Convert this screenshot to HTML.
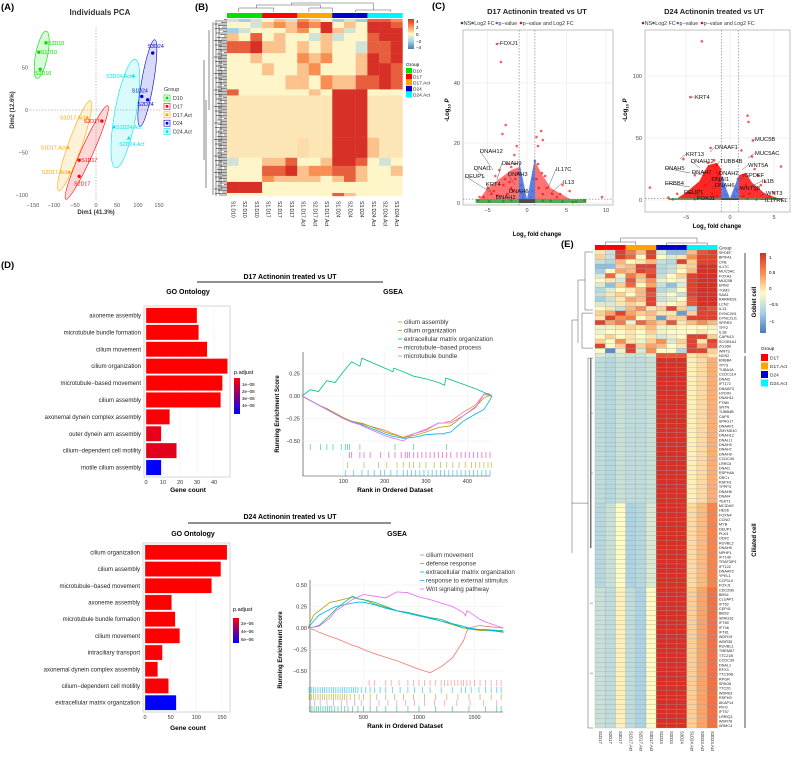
<!DOCTYPE html>
<html><head><meta charset="utf-8">
<style>
html,body{margin:0;padding:0;background:#fff;}
svg{display:block;font-family:"Liberation Sans",sans-serif;}
</style></head>
<body>
<svg id="fig" width="799" height="758" viewBox="0 0 799 758" xmlns="http://www.w3.org/2000/svg">
<text x="1" y="10" font-size="9.5" font-weight="bold">(A)</text>
<text x="195" y="10" font-size="9.5" font-weight="bold">(B)</text>
<text x="432" y="9" font-size="9.5" font-weight="bold">(C)</text>
<text x="1" y="268" font-size="9.5" font-weight="bold">(D)</text>
<text x="561" y="247" font-size="9.5" font-weight="bold">(E)</text>

<text x="100" y="15" font-size="8" font-weight="bold" text-anchor="middle" fill="#333">Individuals PCA</text>
<text x="96" y="214" font-size="6" font-weight="bold" text-anchor="middle" fill="#333">Dim1 (41.3%)</text>
<text x="14" y="110" font-size="6" font-weight="bold" text-anchor="middle" fill="#333" transform="rotate(-90 14 110)">Dim2 (12.6%)</text>
<g id="pca"></g>
<g>
<text x="164" y="91" font-size="5.5" fill="#333">Group</text>
</g>
<g id="pcaLeg"></g>

<g id="heatB"></g>
<g>
<defs><linearGradient id="gB" x1="0" y1="0" x2="0" y2="1"><stop offset="0" stop-color="#D73027"/><stop offset="0.25" stop-color="#F88E52"/><stop offset="0.5" stop-color="#FFFBC4"/><stop offset="0.75" stop-color="#A3CFE6"/><stop offset="1" stop-color="#4A7BB7"/></linearGradient>
<linearGradient id="gE" x1="0" y1="0" x2="0" y2="1"><stop offset="0" stop-color="#D73027"/><stop offset="0.25" stop-color="#F88E52"/><stop offset="0.5" stop-color="#FFFBC4"/><stop offset="0.75" stop-color="#A3CFE6"/><stop offset="1" stop-color="#4A7BB7"/></linearGradient>
<linearGradient id="gP1" x1="0" y1="0" x2="0" y2="1"><stop offset="0" stop-color="#FF0000"/><stop offset="1" stop-color="#0000FF"/></linearGradient></defs>
<rect x="408" y="19" width="6" height="30" fill="url(#gB)"/>
<text x="416" y="23" font-size="4.5">4</text>
<text x="416" y="29" font-size="4.5">2</text>
<text x="416" y="36" font-size="4.5">0</text>
<text x="416" y="43" font-size="4.5">−2</text>
<text x="416" y="49" font-size="4.5">−4</text>
<text x="406" y="66" font-size="4.8">Group</text>
</g>
<g id="heatBLeg"></g>

<text x="537" y="14" font-size="7.5" font-weight="bold" text-anchor="middle" fill="#222">D17 Actinonin treated vs UT</text>
<text x="714" y="14" font-size="7.5" font-weight="bold" text-anchor="middle" fill="#222">D24 Actinonin treated vs UT</text>
<g id="volL"></g>
<g id="volR"></g>
<text x="537" y="236" font-size="6" font-weight="bold" text-anchor="middle">Log<tspan font-size="4" dy="1.5">2</tspan><tspan dy="-1.5"> fold change</tspan></text>
<text x="717" y="228" font-size="6" font-weight="bold" text-anchor="middle">Log<tspan font-size="4" dy="1.5">2</tspan><tspan dy="-1.5"> fold change</tspan></text>
<text x="449" y="110" font-size="6" font-weight="bold" text-anchor="middle" transform="rotate(-90 449 110)">-Log<tspan font-size="4" dy="1.5">10</tspan><tspan dy="-1.5" font-style="italic"> P</tspan></text>
<text x="627" y="110" font-size="6" font-weight="bold" text-anchor="middle" transform="rotate(-90 627 110)">-Log<tspan font-size="4" dy="1.5">10</tspan><tspan dy="-1.5" font-style="italic"> P</tspan></text>

<text x="290" y="279" font-size="7" font-weight="bold" text-anchor="middle">D17 Actinonin treated vs UT</text>
<line x1="197" y1="282" x2="383" y2="282" stroke="#222" stroke-width="1"/>
<text x="188" y="294" font-size="7" font-weight="bold" text-anchor="middle">GO Ontology</text>
<text x="393" y="294" font-size="7" font-weight="bold" text-anchor="middle">GSEA</text>
<text x="290" y="519" font-size="7" font-weight="bold" text-anchor="middle">D24 Actinonin treated vs UT</text>
<line x1="188" y1="523" x2="391" y2="523" stroke="#222" stroke-width="1"/>
<text x="193" y="536" font-size="7" font-weight="bold" text-anchor="middle">GO Ontology</text>
<text x="397" y="536" font-size="7" font-weight="bold" text-anchor="middle">GSEA</text>
<g id="go17"></g>
<g id="go24"></g>
<g id="gs17"></g>
<g id="gs24"></g>
<text x="188" y="492" font-size="6.5" font-weight="bold" text-anchor="middle">Gene count</text>
<text x="188" y="730" font-size="6.5" font-weight="bold" text-anchor="middle">Gene count</text>
<text x="395" y="492" font-size="6.5" font-weight="bold" text-anchor="middle">Rank in Ordered Dataset</text>
<text x="405" y="728" font-size="6.5" font-weight="bold" text-anchor="middle">Rank in Ordered Dataset</text>
<text x="279" y="414" font-size="6" font-weight="bold" text-anchor="middle" transform="rotate(-90 279 414)">Running Enrichment Score</text>
<text x="282" y="650" font-size="6" font-weight="bold" text-anchor="middle" transform="rotate(-90 282 650)">Running Enrichment Score</text>
<g>
<text x="234" y="374" font-size="5.5">p.adjust</text>
<rect x="234" y="378" width="6" height="36" fill="url(#gP1)"/>
<text x="242" y="386" font-size="4.5">1e−08</text>
<text x="242" y="393" font-size="4.5">2e−08</text>
<text x="242" y="400" font-size="4.5">3e−08</text>
<text x="242" y="407" font-size="4.5">4e−08</text>
</g>
<g>
<text x="233" y="611" font-size="5.5">p.adjust</text>
<rect x="233" y="618" width="6" height="25" fill="url(#gP1)"/>
<text x="241" y="625" font-size="4.5">2e−06</text>
<text x="241" y="633" font-size="4.5">4e−06</text>
<text x="241" y="641" font-size="4.5">6e−06</text>
</g>

<g id="heatE"></g>
<g>
<rect x="760" y="253" width="6" height="80" fill="url(#gE)"/>
<text x="769" y="259" font-size="4.5">1</text>
<text x="769" y="274" font-size="4.5">0.5</text>
<text x="769" y="290" font-size="4.5">0</text>
<text x="769" y="306" font-size="4.5">−0.5</text>
<text x="769" y="323" font-size="4.5">−1</text>
<text x="761" y="350" font-size="4.8">Group</text>
</g>
<g id="heatELeg"></g>
<line x1="745" y1="253" x2="745" y2="353" stroke="#222" stroke-width="0.8"/>
<line x1="745" y1="356" x2="745" y2="728" stroke="#222" stroke-width="0.8"/>
<text x="756" y="302" font-size="6" font-weight="bold" text-anchor="middle" transform="rotate(-90 756 302)">Goblet cell</text>
<text x="756" y="540" font-size="6" font-weight="bold" text-anchor="middle" transform="rotate(-90 756 540)">Ciliated cell</text>
</svg>

<script>
// ================= DATA =================
const pcaNames=['S1D10','S2D10','S3D10','S1D17','S2D17','S3D17','S1D17.Act','S2D17.Act','S3D17.Act','S1D24','S2D24','S3D24','S1D24.Act','S2D24.Act','S3D24.Act'];
const pcaGroup=[0,0,0,1,1,1,2,2,2,3,3,3,4,4,4];
const pcaDim1=[-136,-133,-119,-40,-40,14,-67,-64,-21,109,123,135,43,78,89];
const pcaDim2=[68,48,79,-59,-78,-13,-44,-73,-9,16,12,67,-20,-33,40];
const pcaGroups=['D10','D17','D17.Act','D24','D24.Act'];
const pcaTicksX=[-150,-100,-50,0,50,100,150];
const pcaTicksY=[50,0,-50,-100];
const bSamples=['S1.D10','S2.D10','S3.D10','S1.D17','S2.D17','S3.D17','S1.D17.Act','S2.D17.Act','S3.D17.Act','S1.D24','S2.D24','S3.D24','S1.D24.Act','S2.D24.Act','S3.D24.Act'];
const bSampleGroup=[0,0,0,1,1,1,2,2,2,3,3,3,4,4,4];
const bBlockRows=[3,6,5,8,12,10,12,14,6,42,20,8,10,6,11,3];
const bBlockValues=[
[-1,-2,-1,0,1,-1,2,1,0,-2,-1,-2,3,3,2],
[0,0,-1,1,2,1,3,2,4,0,1,0,4,4,3],
[-2,-1,0,0,0,1,2,0,4,1,-1,0,4,4,4],
[1,0,3,0,1,0,0,-1,1,-1,0,0,3,4,4],
[3,3,4,1,1,0,1,0,1,0,0,-1,3,3,4],
[0,0,1,0,0,0,2,1,2,0,0,1,4,3,4],
[0,0,0,1,0,0,1,2,0,0,0,1,4,4,3],
[0,0,0,0,0,1,1,0,2,1,1,3,3,4,3],
[3,0,0,0,0,0,0,1,0,4,4,4,0,0,0],
[0.3,0.3,0.3,0.3,0.3,0.3,0.3,0.3,0.3,4,4,4,0.3,0.3,0.3],
[0.3,0.3,0.3,0.3,0.3,0.3,0.5,0.3,0.3,4,4,4,1,0.3,0.3],
[-1,0,0,1,1,3,0,0,1,4,4,3,0,-1,0],
[0,0,0,3,3,4,1,2,2,3,3,1,0,0,1],
[0,0,0,2,1,1,1,1,0,1,3,1,0,0,0],
[4,4,4,0,0,0,0,0,0,0,0,0,0,0,0],
[0,0,0,0,0,0,0,0,0,3,1,0,0,0,0]];
const volL_fc=[-3.8,-3.3,-3.1,-2.7,-1.3,-1.6,1.8,1.2,2.0,1.4,-2.5,-2.0,-1.5,1.4,1.9,2.3,4.5,5.4,-5.0,-4.2,-3.0,-2.2,-1.5,2.5,3.2,-6.0,9.5,-4.0,-3.5,-2.8,-4.5,-3.8,-2.5,-1.8,1.5,2.0,3.8,4.2,-5.5,1.2,-1.2,-2.0];
const volL_p=[53,47,23,26,19,16,24,22,21,19,13,12,13,13,10,9,6,4,5,4,6,7,8,5,3,2,2,9,11,8,3,2.5,3,4,5,3,2,3,2,8,10,5];
const volL_gfc=[-6.2,7.3,5.8,6.2,-4.8,4.5,3,-3,-2,2];
const volL_gp=[0.8,0.9,0.3,0.4,0.6,0.5,0.7,0.6,0.9,0.8];
const volL_bfc=[-0.9,-0.8,-0.6,0.8,1.0,0.7,0.5,-0.5];
const volL_bp=[10,6,3,8,14,4,2,1.8];
const volL_ticksX=[-5,0,5,10];
const volL_ticksY=[0,20,40];
const volR_fc=[-4.5,-3.2,2.0,2.1,2.6,1.3,-2.2,-5.3,-2.5,-1.8,-1.5,2.5,2.8,3.2,5.8,4,3.5,5,-9.1,-6,-4,-3,-2,-1.5,-1.2,1.5,1.8,1.2,-3.5,-2.8,2.2,4.5,-7,-2,1.5,-1.5,3];
const volR_p=[83,128,68,63,48,40,42,33,30,32,28,35,25,20,27,15,12,6,10,5,20,22,18,22,15,20,12,10,8,12,5,3,2,5,3,3,8];
const volR_gfc=[-6.5,5,3,-4,-2,2];
const volR_gp=[0.6,0.8,0.5,0.7,1,1];
const volR_bfc=[-0.9,-0.7,-0.5,0.9,0.7,0.5];
const volR_bp=[18,10,4,17,9,3];
const volR_ticksX=[-5,0,5];
const volR_ticksY=[0,50,100];
const go17Terms=['axoneme assembly','microtubule bundle formation','cilium movement','cilium organization','microtubule−based movement','cilium assembly','axonemal dynein complex assembly','outer dynein arm assembly','cilium−dependent cell motility','motile cilium assembly'];
const go17Counts=[30,31,36,48,45,44,14,9,18,9];
const go17Padj=[0.3e-8,0.3e-8,0.3e-8,0.3e-8,0.3e-8,0.3e-8,0.4e-8,0.7e-8,0.8e-8,4.5e-8];
const go17Ticks=[0,10,20,30,40];
const go24Terms=['cilium organization','cilium assembly','microtubule−based movement','axoneme assembly','microtubule bundle formation','cilium movement','intraciliary transport','axonemal dynein complex assembly','cilium−dependent cell motility','extracellular matrix organization'];
const go24Counts=[160,148,130,52,59,68,34,25,46,61];
const go24Padj=[0.5e-6,0.5e-6,0.5e-6,0.5e-6,0.5e-6,0.5e-6,0.6e-6,0.6e-6,0.6e-6,6.6e-6];
const go24Ticks=[0,50,100,150];
const gs17Names=['cilium assembly','cilium organization','extracellular matrix organization','microtubule−based process','microtubule bundle'];
const gs17Rank=[0,20,40,60,80,100,120,140,145,200,220,222,245,270,300,330,345,348,360,390,420,440,450,460];
const gs17Score=[
[0,-0.05,-0.10,-0.14,-0.19,-0.24,-0.28,-0.30,-0.31,-0.38,-0.42,-0.42,-0.46,-0.42,-0.38,-0.30,-0.30,-0.29,-0.28,-0.18,-0.10,0.02,0.03,0],
[0,-0.05,-0.10,-0.14,-0.19,-0.24,-0.28,-0.30,-0.30,-0.40,-0.43,-0.43,-0.46,-0.44,-0.40,-0.35,-0.34,-0.34,-0.33,-0.22,-0.12,-0.02,0.0,0],
[0,0.07,0.05,0.17,0.15,0.27,0.38,0.33,0.42,0.31,0.27,0.31,0.27,0.22,0.19,0.15,0.12,0.20,0.18,0.13,0.08,0.04,0.02,0],
[0,-0.05,-0.10,-0.15,-0.20,-0.25,-0.29,-0.31,-0.32,-0.42,-0.45,-0.45,-0.47,-0.46,-0.43,-0.42,-0.42,-0.41,-0.40,-0.28,-0.20,-0.15,-0.08,0],
[0,-0.05,-0.10,-0.15,-0.20,-0.25,-0.29,-0.32,-0.33,-0.44,-0.47,-0.47,-0.50,-0.42,-0.37,-0.30,-0.30,-0.30,-0.30,-0.22,-0.13,0.02,0.01,0]];
const gs17Ticks=[100,200,300,400];
const gs17TicksY=[0.25,0,-0.25,-0.5];
const gs17HitsA=[20,45,60,75,95,105,110,115,140,225,270,350];
const gs17HitsB=[115,120,140,150,165,190,210,225,240,250,255,260,270,280,290,300,310,320,330,340,350,360,375,385,395,405,415,425,435,445,455];
const gs17HitsC=[110,150,185,205,230,245,260,270,285,300,320,335,350,365,380,395,410,420,430,440,450,458];
const gs17HitsD=[105,125,145,160,175,190,200,215,230,245,255,265,275,285,295,305,315,325,335,345,355,365,375,385,395,405,415,425,435,445,455];
const gs24Names=['cilium movement','defense response','extracellular matrix organization','response to external stimulus','Wnt signaling pathway'];
const gs24Rank=[0,50,100,200,250,400,450,500,600,700,800,900,1000,1100,1200,1300,1400,1420,1430,1450,1550,1600,1760];
const gs24Score=[
[0,-0.02,-0.05,-0.10,-0.12,-0.20,-0.22,-0.25,-0.30,-0.34,-0.38,-0.43,-0.48,-0.52,-0.45,-0.35,-0.15,-0.08,-0.04,0.0,0.03,0.02,0],
[0,0.15,0.20,0.30,0.31,0.36,0.34,0.33,0.28,0.24,0.20,0.18,0.15,0.12,0.08,0.04,0.0,0.0,-0.01,-0.01,-0.03,-0.03,-0.04],
[0,0.01,0.03,0.15,0.22,0.37,0.34,0.33,0.30,0.25,0.20,0.18,0.15,0.12,0.10,0.05,0.0,0.0,0.0,-0.01,-0.02,-0.02,-0.03],
[0,0.08,0.15,0.22,0.25,0.29,0.30,0.30,0.27,0.23,0.20,0.17,0.14,0.11,0.08,0.05,0.02,0.01,0.01,0.0,-0.02,-0.02,-0.05],
[0,0.01,0.02,0.12,0.20,0.33,0.36,0.39,0.37,0.35,0.42,0.41,0.36,0.33,0.29,0.25,0.18,0.14,0.20,0.19,0.10,0.07,0]];
const gs24Ticks=[500,1000,1500];
const gs24TicksY=[0.5,0.25,0,-0.25,-0.5];
const gs24Hits=[
[550,600,700,750,820,900,950,1000,1050,1100,1150,1200,1230,1260,1290,1320,1350,1380,1400,1430,1460,1500,1550,1600,1650,1700,1740],
[10,30,50,70,90,110,130,150,170,190,210,230,250,270,290,310,330,350,370,390,410,430,450,480,520,560,600,650,700,760,830,900,960,1030,1100,1200,1300,1380,1420,1470,1540,1600,1650,1700,1740],
[10,30,50,70,90,110,130,150,170,190,210,230,250,270,290,310,330,350,380,420,460,500,560,620,700,780,860,950,1050,1150,1250,1350,1450,1550,1650,1740],
[20,60,110,170,230,300,350,420,480,560,640,720,800,880,960,1050,1140,1230,1340,1460,1580,1700],
[15,35,55,75,95,115,135,155,175,195,215,240,270,300,330,360,400,450,500,560,620,700,800,900,1000,1150,1300,1450,1600,1700,1740]];
const eSamples=['S1D17','S2D17','S3D17','S1D17.Act','S2D17.Act','S3D17.Act','S1D24','S2D24','S3D24','S1D24.Act','S2D24.Act','S3D24.Act'];
const eSampleGroup=[0,0,0,1,1,1,2,2,2,3,3,3];
const eGobletGenes=['SPDEF','BPIFA1','CFB','IL17C','MUC5AC','FOXA3','MUC5B','ERN2','TGM2','SAA1','RARRES1','LCN2','IL13','DYNC2H1','DYNC2LI1','SPRR3','TFF2','IL1B','CAPN13','SCGB1A1','ZG16B','WNT3'];
const eGobletValues=[
[0.1,-0.3,0.9,0.6,0.3,0.9,-0.2,-0.6,-0.6,0.3,0.8,0.9],
[0.2,-0.3,0.9,0.7,0.0,0.9,0.0,-0.2,0.1,0.5,0.9,0.9],
[-0.3,-0.4,0.3,0.0,0.1,0.3,-0.3,-0.4,0.9,0.2,0.9,0.9],
[-0.6,-0.6,0.2,0.3,0.9,0.9,-0.4,-0.3,0.1,0.2,1,1],
[-0.5,0.0,0.4,0.3,0.9,0.8,-0.4,-0.3,0.0,0.3,1,1],
[-0.2,0.7,-0.1,0.6,0.3,0.9,-0.3,0.0,0.2,0.9,1,1],
[0.0,0.1,-0.2,0.8,0.2,0.5,-0.1,0.0,-0.1,0.9,1,1],
[-0.2,-0.6,0.2,0.7,0.0,0.4,-0.3,-0.6,-0.2,0.9,1,1],
[-0.4,-0.2,0.0,0.1,0.3,0.9,-0.4,-0.3,0.0,0.9,1,1],
[-0.3,0.1,0.2,0.0,0.3,0.8,-0.2,0.0,-0.3,0.9,1,1],
[-0.5,-0.3,0.1,0.4,0.3,0.9,-0.3,-0.2,0.0,0.8,1,1],
[-0.2,-0.2,0.1,0.2,0.1,0.9,-0.1,0.0,0.1,0.8,1,1],
[0.0,0.1,-0.3,0.3,0.5,0.1,0.2,0.9,0.2,-0.4,0.9,0.8],
[0.2,0.4,0.9,0.4,0.2,0.3,0.1,0.1,-0.8,0.2,0.9,0.9],
[0.1,0.9,0.5,0.6,0.0,0.2,-0.8,0.2,0.2,0.9,0.9,0.9],
[0.9,0.4,0.6,-0.1,0.7,0.4,0.2,0.8,0.1,0.3,0.5,0.3],
[-0.1,-0.1,0.1,0.2,0.1,0.3,-0.1,-0.1,0.0,0.0,0.0,-0.1],
[-0.1,0.0,0.0,0.1,0.0,0.2,-0.1,0.0,0.0,0.0,0.1,0.0],
[0.0,0.2,0.0,0.1,0.0,0.1,-0.2,-0.1,0.0,0.9,0.9,0.2],
[0.2,0.0,0.5,0.1,-0.1,0.2,0.5,-0.2,0.2,0.9,0.1,0.9],
[0.9,0.0,0.2,0.9,0.2,0.4,0.3,0.0,0.1,0.9,0.4,0.8],
[0.0,-0.9,-0.1,0.9,-0.2,0.5,0.0,0.0,-0.4,0.9,0.9,0.2]];
const eCiliaGenes=['NOS2','ERBB4','TP73','TUBA1A','CCDC114','DNAI2','IFT172','DNAAF3','HYDIN','DNAH11','FTNB','SNTN','TUBB4B','CAPS','SPAG17','DNAAF1','ZMYND10','DNAH12','DNALI1','DNAH3','DNAH7','DNAH9','CCDC40','LRRC6','DNAI1','RSPH4A','DRC1','RSPH1','TPPP3','DNAH6','DNAI4','TEKT1','MCIDAS','HES6','FOXN4','CCNO','MYB','DEUP1','PLK4','ODF2','RUVBL2','DNAH5','NPHP1','IFT140','TRAF3IP1','IFT122','DNAAF2','YPEL1','CCP110','FOXJ1','CDC20B','BBS4','CLUAP1','IFT52','CEP41','BBS9','SPAG16','IFT80','IFT46','IFT81','WDR19','WDR35','RUVBL1','TMEM67','TTC21B','CCDC39','DNAL1','RFX3','TTC30B','RPGR','SPAG6','TTC26','WDR63','RSPH9','AKAP14','PIFO','IFT57','LRRIQ1','WDR78','ARMC4'];
const eCiliaProfiles=[
[-0.2,-0.3,-0.2,-0.3,-0.3,-0.2,0.8,0.8,0.8,0.1,0.2,0.1],
[-0.35,-0.4,-0.3,-0.35,-0.35,-0.3,1,1,1,0.05,0.15,0.35],
[-0.4,-0.3,0.0,-0.45,-0.4,-0.2,1,1,1,0.15,0.3,0.55],
[-0.3,-0.35,0.05,-0.35,-0.45,0.0,1,1,1,0.2,0.4,0.65]];
const eCiliaProfileIdx=[0,1,1,1,1,1,1,1,1,1,1,1,1,1,1,1,1,1,1,1,1,1,1,1,1,1,1,1,1,1,1,1,2,2,2,2,2,2,2,2,2,2,2,2,2,2,2,2,2,2,3,3,3,3,3,3,3,3,3,3,3,3,3,3,3,3,3,3,3,3,3,3,3,3,3,3,3,3,3,3];

// ================= DRAW =================
const NS='http://www.w3.org/2000/svg';
function mk(tag,attrs,parent){const e=document.createElementNS(NS,tag);for(const k in attrs)e.setAttribute(k,attrs[k]);parent.appendChild(e);return e;}
function lerpCol(stops,v){
  if(v<=stops[0][0])return 'rgb('+stops[0][1].join(',')+')';
  for(let i=1;i<stops.length;i++){if(v<=stops[i][0]){const a=stops[i-1],b=stops[i];const t=(v-a[0])/(b[0]-a[0]);return 'rgb('+a[1].map((c,j)=>Math.round(c+(b[1][j]-c)*t)).join(',')+')';}}
  return 'rgb('+stops[stops.length-1][1].join(',')+')';}
const heatStops=[[-1,[74,123,183]],[-0.5,[163,207,230]],[0,[255,251,196]],[0.5,[248,142,82]],[1,[215,48,39]]];
const grpCols=['#00E000','#FF0000','#FFA500','#0000CD','#00E5EE'];

(function(){
  const g=document.getElementById('pca');
  const sx=d=>96+d*0.42, sy=d=>110-d*0.85;
  let l=mk('line',{x1:sx(0),y1:27,x2:sx(0),y2:200,stroke:'#888','stroke-width':0.5,'stroke-dasharray':'1.5,1.5'},g);
  
  
  l=mk('line',{x1:30,y1:sy(0),x2:162,y2:sy(0),stroke:'#888','stroke-width':0.5,'stroke-dasharray':'1.5,1.5'},g);
  
  
  pcaTicksX.forEach(v=>{const t=mk('text',{x:sx(v),y:207,'font-size':5.5,'text-anchor':'middle',fill:'#555'},g);t.textContent=String(v).replace('-','−');
    
    });
  pcaTicksY.forEach(v=>{const t=mk('text',{x:28,y:sy(v)+2,'font-size':5.5,'text-anchor':'end',fill:'#555'},g);t.textContent=String(v).replace('-','−');
    
    });
  for(let gi=0;gi<5;gi++){
    const xs=[],ys=[];pcaGroup.forEach((gg,i)=>{if(gg===gi){xs.push(sx(pcaDim1[i]));ys.push(sy(pcaDim2[i]));}});
    const n=xs.length,mx=xs.reduce((a,b)=>a+b)/n,my=ys.reduce((a,b)=>a+b)/n;
    let sxx=0,syy=0,sxy=0;for(let i=0;i<n;i++){sxx+=(xs[i]-mx)**2;syy+=(ys[i]-my)**2;sxy+=(xs[i]-mx)*(ys[i]-my);}
    sxx/=n-1;syy/=n-1;sxy/=n-1;
    const tr=(sxx+syy)/2,d=Math.sqrt(((sxx-syy)/2)**2+sxy*sxy);const l1=tr+d,l2=Math.max(tr-d,0);
    const ang=0.5*Math.atan2(2*sxy,sxx-syy)*180/Math.PI;
    const e=mk('ellipse',{cx:mx,cy:my,rx:Math.sqrt(l1)*1.55+3,ry:Math.max(Math.sqrt(l2)*1.3,6),transform:'rotate('+ang+' '+mx+' '+my+')',fill:grpCols[gi],'fill-opacity':0.15,stroke:grpCols[gi],'stroke-width':0.6},g);
    
    
  }
  pcaNames.forEach((nm,i)=>{
    const x=sx(pcaDim1[i]),y=sy(pcaDim2[i]),c=grpCols[pcaGroup[i]];
    let p;
    if(pcaGroup[i]===2||pcaGroup[i]===4)p=mk('path',{d:`M${x},${y-2.2}L${x+2},${y+1.4}L${x-2},${y+1.4}Z`,fill:c},g);
    else p=mk('circle',{cx:x,cy:y,r:1.7,fill:c},g);
    
    
    const right=(pcaGroup[i]===0)||nm==='S1D24.Act'||nm==='S1D17';
    const t=mk('text',{x:right?x+2:x-2,y:y+(nm==='S2D10'?6:nm==='S3D24'?-5:nm==='S2D24.Act'?8:nm==='S2D17'?9:2),'font-size':5.3,'text-anchor':right?'start':'end',fill:c},g);
    if(nm==='S2D10'||nm==='S3D24'||nm==='S2D24.Act'||nm==='S2D17'){t.setAttribute('text-anchor','middle');t.setAttribute('x',x+3);}
    if(nm==='S1D24'||nm==='S2D24'){t.setAttribute('text-anchor','middle');t.setAttribute('y',nm==='S1D24'?y-4:y+6);}
    t.textContent=nm;
    
    
  });
  const lg=document.getElementById('pcaLeg');
  pcaGroups.forEach((gname,i)=>{
    const y=95+i*8.4;
    const r=mk('rect',{x:164,y:y,width:6,height:6,fill:'#fff',stroke:grpCols[i],'stroke-width':0.6},lg);
    
    
    const m=mk('circle',{cx:167,cy:y+3,r:1.5,fill:grpCols[i]},lg);
    
    
    const t=mk('text',{x:173,y:y+5,'font-size':5.3,fill:'#333'},lg);t.textContent=gname;
    
    
  });
})();

(function(){
  const g=document.getElementById('heatB');
  const x0=227,cw=11.7,y0=19;
  const total=bBlockRows.reduce((a,b)=>a+b),rh=177/total;
  const bStops=[[-4,[74,123,183]],[-2,[163,207,230]],[0,[254,246,200]],[2,[248,142,82]],[4,[215,48,39]]];
  const bGrpCols=['#00E000','#FF0000','#FFA500','#0000CD','#00F5FF'];
  bSamples.forEach((s,j)=>{
    const r=mk('rect',{x:x0+j*cw,y:13,width:cw+0.2,height:5,fill:bGrpCols[bSampleGroup[j]]},g);
    
    
    const t=mk('text',{x:x0+j*cw+cw/2-1.5,y:201,'font-size':5,fill:'#222',transform:`rotate(90 ${x0+j*cw+cw/2-1.5} 201)`},g);t.textContent=s;
    
    
  });
  let row=0;
  bBlockRows.forEach((n,bi)=>{
    bBlockValues[bi].forEach((v,j)=>{
      const r=mk('rect',{x:x0+j*cw,y:y0+row*rh,width:cw+0.2,height:n*rh+0.2,fill:lerpCol(bStops,v)},g);
      
      
    });
    row+=n;
  });
  // dense row dendrogram (decorative)
  let dd='';
  for(let i=0;i<118;i++){const y=y0+i*1.5+0.5;const len=3+((i*7)%11);dd+=`M227,${y.toFixed(1)}H${(227-len).toFixed(1)}`;}
  dd+='M213,22V195 M209,30V110 M206,100V188 M204,60V160 M216,20V196 M219,25V120 M219,130V194 M221,40V190';
  const dm=mk('path',{d:dd,stroke:'#111','stroke-width':0.5,fill:'none'},g);
  
  
  const top=mk('path',{d:`M${x0+cw*1},12V8H${x0+cw*4}V12 M${x0+cw*2.5},8V5H${x0+cw*8}V8 M${x0+cw*7},12V8H${x0+cw*9}V12 M${x0+cw*5.5},5V3H${x0+cw*12.5}V10 M${x0+cw*11},10H${x0+cw*14}V12 M${x0+cw*11},10V12`,stroke:'#555','stroke-width':0.5,fill:'none'},g);
  
  
  const lg=document.getElementById('heatBLeg');
  ['D10','D17','D17.Act','D24','D24.Act'].forEach((s,i)=>{
    const r=mk('rect',{x:406,y:68+i*6,width:6,height:5.5,fill:bGrpCols[i]},lg);
    
    
    const t=mk('text',{x:413,y:72.5+i*6,'font-size':4.8,fill:'#222'},lg);t.textContent=s;
    
    
  });
})();

function drawVolcano(id,box,sx,sy,ticksX,ticksY,fc,p,gfc,gp,bfc,bp,legX,clouds,labels){
  const g=document.getElementById(id);
  const r=mk('rect',{x:box[0],y:box[1],width:box[2]-box[0],height:box[3]-box[1],fill:'#fff',stroke:'#999','stroke-width':0.6},g);
  
  
  ticksX.forEach(v=>{const l=mk('line',{x1:sx(v),y1:box[1],x2:sx(v),y2:box[3],stroke:'#e4e4e4','stroke-width':0.5},g);
    
    
    const t=mk('text',{x:sx(v),y:box[3]+7,'font-size':5.5,'text-anchor':'middle',fill:'#444'},g);t.textContent=String(v).replace('-','−');
    
    });
  ticksY.forEach(v=>{const l=mk('line',{x1:box[0],y1:sy(v),x2:box[2],y2:sy(v),stroke:'#e4e4e4','stroke-width':0.5},g);
    
    
    const t=mk('text',{x:box[0]-3,y:sy(v)+2,'font-size':5.5,'text-anchor':'end',fill:'#444'},g);t.textContent=v;
    
    });
  clouds.forEach(c=>{const pth=mk('path',{d:c[0],fill:c[1],'fill-opacity':c[2]},g);
    
    });
  gfc.forEach((v,i)=>{const c=mk('circle',{cx:sx(v),cy:sy(gp[i]),r:1.3,fill:'#228B22','fill-opacity':0.8},g);
    
    });
  bfc.forEach((v,i)=>{const c=mk('circle',{cx:sx(v),cy:sy(bp[i]),r:1.3,fill:'#4169E1','fill-opacity':0.8},g);
    
    });
  fc.forEach((v,i)=>{const c=mk('circle',{cx:sx(v),cy:sy(p[i]),r:1.3,fill:'#FF0000','fill-opacity':0.65},g);
    
    });
  [-1,1].forEach(v=>{const l=mk('line',{x1:sx(v),y1:box[1],x2:sx(v),y2:box[3],stroke:'#555','stroke-width':0.5,'stroke-dasharray':'1.5,1.5'},g);
    
    });
  const hl=mk('line',{x1:box[0],y1:sy(1.3),x2:box[2],y2:sy(1.3),stroke:'#555','stroke-width':0.5,'stroke-dasharray':'1.5,1.5'},g);
  
  
  labels.forEach(lb=>{
    const ln=mk('line',{x1:lb[1],y1:lb[2]-2,x2:lb[3],y2:lb[4],stroke:'#333','stroke-width':0.4},g);
    
    
    const t=mk('text',{x:lb[1],y:lb[2],'font-size':5.8,fill:'#111','text-anchor':lb[5]||'start'},g);t.textContent=lb[0];
    
    
  });
  const leg=[['NS','#444'],['Log2 FC','#228B22'],['p−value','#4169E1'],['p−value and Log2 FC','#FF0000']];
  let x=legX;
  leg.forEach(L=>{const c=mk('circle',{cx:x,cy:23,r:1.3,fill:L[1]},g);
    
    
    const t=mk('text',{x:x+1.8,y:25,'font-size':5.3,fill:'#333'},g);t.textContent=L[0];
    
    
    x+=L[0].length*2.75+5;});
}
(function(){
  const sx=v=>527+v*7.9, sy=v=>203-v*3;
  const cl=[
   [`M${sx(-6)},${sy(1.3)}L${sx(-5)},${sy(5)}L${sx(-3.5)},${sy(8)}L${sx(-2)},${sy(11)}L${sx(-1)},${sy(12)}L${sx(-1)},${sy(1.3)}Z`,'#FF0000',0.55],
   [`M${sx(1)},${sy(1.3)}L${sx(1)},${sy(14)}L${sx(1.8)},${sy(10)}L${sx(3)},${sy(5)}L${sx(5)},${sy(2)}L${sx(5.5)},${sy(1.3)}Z`,'#FF0000',0.55],
   [`M${sx(-1)},${sy(1.3)}L${sx(-1)},${sy(14)}L${sx(0)},${sy(1.3)}L${sx(1)},${sy(15)}L${sx(1)},${sy(1.3)}Z`,'#4169E1',0.85],
   [`M${sx(-6.5)},${sy(1.3)}L${sx(7.5)},${sy(1.3)}L${sx(7.5)},${sy(0)}L${sx(-6.5)},${sy(0)}Z`,'#228B22',0.75],
   [`M${sx(-1)},${sy(1.3)}L${sx(1)},${sy(1.3)}L${sx(1)},${sy(0)}L${sx(-1)},${sy(0)}Z`,'#444',0.9]];
  const labs=[['FOXJ1',500,45,sx(-3.8),sy(53)],['DNAH12',480,153,493,170],['DNAI1',474,170,485,178],['DEUP1',465,178,490,192],['KRT4',486,186,492,193],['DNAH9',502,165,497,180],['DNAH3',508,176,515,185],['DNAH6',509,193,512,188],['DNAH2',496,199,500,196],['IL17C',556,171,548,188],['IL13',563,184,550,194]];
  drawVolcano('volL',[463,30,613,205],sx,sy,volL_ticksX,volL_ticksY,volL_fc,volL_p,volL_gfc,volL_gp,volL_bfc,volL_bp,462,cl,labs);
})();
(function(){
  const sx=v=>730+v*8.8, sy=v=>200-v*1.24;
  const cl=[
   [`M${sx(-6)},${sy(1.3)}L${sx(-5)},${sy(6)}L${sx(-3.5)},${sy(15)}L${sx(-2.5)},${sy(28)}L${sx(-1.5)},${sy(30)}L${sx(-1)},${sy(25)}L${sx(-1)},${sy(1.3)}Z`,'#FF0000',0.85],
   [`M${sx(1)},${sy(1.3)}L${sx(1)},${sy(20)}L${sx(1.8)},${sy(22)}L${sx(2.5)},${sy(14)}L${sx(4)},${sy(5)}L${sx(5.5)},${sy(1.3)}Z`,'#FF0000',0.8],
   [`M${sx(-1)},${sy(1.3)}L${sx(-1)},${sy(20)}L${sx(0)},${sy(1.3)}L${sx(1)},${sy(20)}L${sx(1)},${sy(1.3)}Z`,'#4169E1',0.85],
   [`M${sx(-7)},${sy(1.3)}L${sx(6)},${sy(1.3)}L${sx(6)},${sy(0)}L${sx(-7)},${sy(0)}Z`,'#228B22',0.75],
   [`M${sx(-1)},${sy(1.3)}L${sx(1)},${sy(1.3)}L${sx(1)},${sy(0)}L${sx(-1)},${sy(0)}Z`,'#444',0.9]];
  const labs=[['KRT4',695,99,sx(-4.5),sy(83)],['MUC5B',755,141,sx(2.6),sy(48)],['MUC5AC',755,155,748,158],['WNT5A',748,167,742,170],['SPDEF',745,177,740,180],['IL1B',762,183,752,186],['WNT5B',740,190,736,192],['WNT3',766,195,760,196],['IL17REL',765,202,760,199],['KRT13',686,156,680,159],['DNAAF1',715,149,710,152],['DNAH12',691,163,700,168],['TUBB4B',720,163,716,166],['DNAH5',665,170,690,173],['DNAH7',692,174,705,176],['DNAH2',719,175,716,178],['DNAI1',712,181,708,183],['ERBB4',665,185,690,187],['DNAH6',715,187,712,189],['DEUP1',684,194,700,195],['FOXJ1',697,200,712,199]];
  drawVolcano('volR',[645,30,790,212],sx,sy,volR_ticksX,volR_ticksY,volR_fc,volR_p,volR_gfc,volR_gp,volR_bfc,volR_bp,643,cl,labs);
})();

function drawGO(id,box,scale,terms,counts,padj,pmin,pmax,ticks){
  const g=document.getElementById(id);
  const fr=mk('rect',{x:box[0],y:box[1],width:box[2]-box[0],height:box[3]-box[1],fill:'#fff',stroke:'#ccc','stroke-width':0.8},g);
  
  
  ticks.forEach(v=>{const x=box[0]+2+v*scale;
    const l=mk('line',{x1:x,y1:box[1],x2:x,y2:box[3],stroke:'#eee','stroke-width':0.5},g);
    
    
    const t=mk('text',{x:x,y:box[3]+7,'font-size':5.5,'text-anchor':'middle',fill:'#333'},g);t.textContent=v;
    
    });
  const n=terms.length,step=(box[3]-box[1]-2)/n;
  terms.forEach((term,i)=>{
    const y=box[1]+1+i*step;
    const t0=Math.min(1,Math.max(0,(padj[i]-pmin)/(pmax-pmin)));
    const col='rgb('+Math.round(255*(1-t0))+',0,'+Math.round(255*t0)+')';
    const b=mk('rect',{x:box[0]+2,y:y+0.8,width:counts[i]*scale,height:step-1.6,fill:col,stroke:'#fff','stroke-width':0.3},g);
    
    
    const t=mk('text',{x:box[0]-3,y:y+step/2+2,'font-size':6,'text-anchor':'end',fill:'#222'},g);t.textContent=term;
    
    
  });
}
drawGO('go17',[144,306,230,477],1.7,go17Terms,go17Counts,go17Padj,0.3e-8,4.5e-8,go17Ticks);
drawGO('go24',[143,543,230,712],0.513,go24Terms,go24Counts,go24Padj,0.5e-6,6.6e-6,go24Ticks);

const gsCols=['#F8766D','#A3A500','#00BF7D','#00B0F6','#E76BF3'];
function drawGSEA(id,box,sx,sy,ranks,scores,names,ticksX,ticksY,hitRows,hitY,legX,legY){
  const g=document.getElementById(id);
  const ax=mk('path',{d:`M${box[0]},${box[1]}V${box[3]}H${box[2]}`,stroke:'#333','stroke-width':0.6,fill:'none'},g);
  
  
  ticksX.forEach(v=>{const l=mk('line',{x1:sx(v),y1:box[1],x2:sx(v),y2:box[3],stroke:'#eee','stroke-width':0.5},g);
    
    
    const t=mk('text',{x:sx(v),y:box[3]+7,'font-size':5.5,'text-anchor':'middle',fill:'#333'},g);t.textContent=v;
    
    });
  ticksY.forEach(v=>{const l=mk('line',{x1:box[0],y1:sy(v),x2:box[2],y2:sy(v),stroke:'#eee','stroke-width':0.5},g);
    
    
    const t=mk('text',{x:box[0]-3,y:sy(v)+2,'font-size':5.5,'text-anchor':'end',fill:'#333'},g);t.textContent=v.toFixed(2).replace('-','−');
    
    });
  scores.forEach((s,k)=>{
    const d=s.map((v,i)=>(i?'L':'M')+sx(ranks[i]).toFixed(1)+','+sy(v).toFixed(1)).join('');
    const p=mk('path',{d:d,stroke:gsCols[k],'stroke-width':0.8,fill:'none'},g);
    
    
  });
  hitRows.forEach((row,k)=>{
    row.forEach(rk=>{const l=mk('line',{x1:sx(rk),y1:hitY[k][1]-3,x2:sx(rk),y2:hitY[k][1]+3,stroke:gsCols[hitY[k][0]],'stroke-width':0.9,'stroke-opacity':0.6},g);
      
      });
  });
  names.forEach((nm,k)=>{
    const l=mk('line',{x1:legX,y1:legY+k*8.5,x2:legX+4,y2:legY+k*8.5,stroke:gsCols[k],'stroke-width':0.8},g);
    
    
    const t=mk('text',{x:legX+6,y:legY+k*8.5+2.2,'font-size':6.3,fill:'#333'},g);t.textContent=nm;
    
    
  });
}
drawGSEA('gs17',[303,352,490,476],v=>302+v*0.4133,v=>396-v*90,gs17Rank,gs17Score,gs17Names,gs17Ticks,gs17TicksY,
  [gs17HitsA,gs17HitsB,gs17HitsC,gs17HitsD,gs17HitsB],[[2,447],[0,455],[1,465],[3,473],[4,455]],398,322);
drawGSEA('gs24',[310,580,503,712],v=>308+v*0.111,v=>628-v*86,gs24Rank,gs24Score,gs24Names,gs24Ticks,gs24TicksY,
  gs24Hits,[[0,683],[3,690],[1,697],[4,703],[2,709]],420,555);

(function(){
  const g=document.getElementById('heatE');
  const x0=595,cw=10.2,y0=250;
  const nRows=eGobletGenes.length+eCiliaGenes.length;
  const rh=(728-y0)/nRows;
  const eGrpCols=['#FF0000','#FFA500','#0000CD','#00F5FF'];
  eSamples.forEach((s,j)=>{
    const r=mk('rect',{x:x0+j*cw,y:245,width:cw+0.1,height:5,fill:eGrpCols[eSampleGroup[j]]},g);
    
    
    const t=mk('text',{x:x0+j*cw+cw/2-1.3,y:731,'font-size':4.2,fill:'#222',transform:`rotate(90 ${x0+j*cw+cw/2-1.3} 731)`},g);t.textContent=s;
    
    
  });
  const gl=mk('text',{x:719,y:249.5,'font-size':4.5,fill:'#222'},g);gl.textContent='Group';
  
  
  const rows=eGobletValues.concat(eCiliaProfileIdx.map(k=>eCiliaProfiles[k]));
  const genes=eGobletGenes.concat(eCiliaGenes);
  rows.forEach((vals,i)=>{
    const y=y0+i*rh;
    vals.forEach((v,j)=>{
      const r=mk('rect',{x:x0+j*cw,y:y,width:cw,height:rh,fill:lerpCol(heatStops,v),stroke:'#999','stroke-width':0.25},g);
      
      
    });
    const t=mk('text',{x:x0+12*cw+1.5,y:y+rh-0.8,'font-size':3.8,fill:'#222'},g);t.textContent=genes[i];
    
    
  });
  const yC=y0+eGobletGenes.length*rh;
  const dend=mk('path',{d:`M593,${y0+2}H585V${y0+60}H593 M585,${y0+30}H578V${yC-10} M593,${yC-40}H582V${yC-5}H593 M578,${y0+70}H572V${yC+200} M593,${yC+5}H588V${728}H593 M588,${yC+150}H572 M593,${yC+60}H590 M593,${yC+120}H590 M593,${yC+250}H590 M593,${yC+320}H590`,stroke:'#555','stroke-width':0.5,fill:'none'},g);
  
  
  const dense=mk('rect',{x:590,y:yC+5,width:1.5,height:190,fill:'#777'},g);
  
  
  const top=mk('path',{d:`M${x0+cw},245V242H${x0+cw*4}V245 M${x0+cw*2.5},242V238H${x0+cw*10}V243 M${x0+cw*7},243H${x0+cw*11}V245 M${x0+cw*7},243V245`,stroke:'#555','stroke-width':0.5,fill:'none'},g);
  
  
  const lg=document.getElementById('heatELeg');
  ['D17','D17.Act','D24','D24.Act'].forEach((s,i)=>{
    const r=mk('rect',{x:761,y:354+i*8.5,width:7,height:7,fill:eGrpCols[i]},lg);
    
    
    const t=mk('text',{x:770,y:359.5+i*8.5,'font-size':4.8,fill:'#222'},lg);t.textContent=s;
    
    
  });
})();
</script>
</body></html>
